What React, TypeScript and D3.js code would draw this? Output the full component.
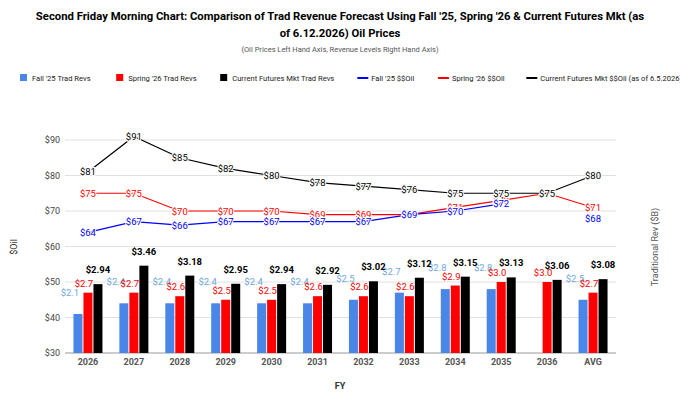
import * as d3 from "d3";

const categories = ["2026", "2027", "2028", "2029", "2030", "2031", "2032", "2033", "2034", "2035", "2036", "AVG"];
const fallRev = [2.1, 2.4, 2.4, 2.4, 2.4, 2.4, 2.5, 2.7, 2.8, 2.8, null, 2.5];
const springRev = [2.7, 2.7, 2.6, 2.5, 2.5, 2.6, 2.6, 2.6, 2.9, 3.0, 3.0, 2.7];
const currentRev = [2.94, 3.46, 3.18, 2.95, 2.94, 2.92, 3.02, 3.12, 3.15, 3.13, 3.06, 3.08];
const fallOil = [64, 67, 66, 67, 67, 67, 67, 69, 70, 72, null, 68];
const springOil = [75, 75, 70, 70, 70, 69, 69, 69, 71, 73, 75, 71];
const currentOil = [81, 91, 85, 82, 80, 78, 77, 76, 75, 75, 75, 80];
const oilTicks = [30, 40, 50, 60, 70, 80, 90];

const legend = [
  { label: "Fall '25 Trad Revs", color: "#4a86e8", type: "bar" },
  { label: "Spring '26 Trad Revs", color: "#ff0000", type: "bar" },
  { label: "Current Futures Mkt Trad Revs", color: "#000000", type: "bar" },
  { label: "Fall '25 $$Oil", color: "#0000ff", type: "line" },
  { label: "Spring '26 $$Oil", color: "#ff0000", type: "line" },
  { label: "Current Futures Mkt $$Oil (as of 6.5.2026)", color: "#000000", type: "line" },
];

export default function App() {
  const W = 680, H = 412;
  const left = 65, right = 616, bottom = 353;
  const x = d3.scaleBand().domain(categories).range([left, right]);
  const y = d3.scaleLinear().domain([30, 90]).range([bottom, 140]);
  const yr = d3.scaleLinear().domain([1, 7]).range([bottom, 140]);
  const bw = 9;
  const cx = (i: number) => x(categories[i])! + x.bandwidth() / 2;

  const barSeries = [
    { data: fallRev, color: "#4a86e8", label: "#6fa8dc", off: -1, fmt: (v: number) => "$" + v.toFixed(1), dx: -8, dy: -18 },
    { data: springRev, color: "#ff0000", label: "#ff0000", off: 0, fmt: (v: number) => "$" + v.toFixed(1), dx: -4, dy: -6 },
    { data: currentRev, color: "#000000", label: "#000000", off: 1, fmt: (v: number) => "$" + v.toFixed(2), dx: 0, dy: -11 },
  ];
  const lineSeries = [
    { data: springOil, color: "#ff0000" },
    { data: fallOil, color: "#0000ff" },
    { data: currentOil, color: "#000000" },
  ];
  const line = d3.line<number | null>()
    .defined((d) => d !== null)
    .x((_, i) => cx(i))
    .y((d) => y(d as number));

  let lx = 20;
  const legendItems = legend.map((l) => {
    const item = { ...l, x: lx };
    lx += 13 + l.label.length * 3.9 + 13;
    return item;
  });

  return (
    <svg width={W} height={H} style={{ position: "absolute", left: 0, top: 0, fontFamily: "Roboto, sans-serif" }}>
      <rect width={W} height={H} fill="#fff" />
      <text x={340} y={20} textAnchor="middle" fontSize={11.3} fontWeight="bold">
        Second Friday Morning Chart: Comparison of Trad Revenue Forecast Using Fall '25, Spring '26 &amp; Current Futures Mkt (as
      </text>
      <text x={340} y={37} textAnchor="middle" fontSize={11.3} fontWeight="bold">of 6.12.2026) Oil Prices</text>
      <text x={340} y={52} textAnchor="middle" fontSize={7.5} fill="#555">(Oil Prices Left Hand Axis, Revenue Levels Right Hand Axis)</text>
      {legendItems.map((l) => (
        <g key={l.label} transform={`translate(${l.x},78)`}>
          {l.type === "bar"
            ? <rect x={0} y={-4} width={7} height={7} fill={l.color} />
            : <line x1={-2} x2={9} y1={0} y2={0} stroke={l.color} strokeWidth={2} />}
          <text x={12} y={3} fontSize={7.6} fill="#222">{l.label}</text>
        </g>
      ))}
      {oilTicks.map((t) => (
        <g key={t}>
          <line x1={left} x2={right} y1={y(t)} y2={y(t)} stroke={t === 30 ? "#999" : "#e0e0e0"} />
          <text x={left - 5} y={y(t) + 3} textAnchor="end" fontSize={9} fill="#444">${t}</text>
        </g>
      ))}
      {barSeries.map((s) => s.data.map((v, i) => v === null ? null : (
        <g key={s.color + i}>
          <rect x={cx(i) + s.off * (bw + 1) - bw / 2} y={yr(v)} width={bw} height={bottom - yr(v)} fill={s.color} />
          <text x={cx(i) + s.off * (bw + 1) + s.dx} y={yr(v) + s.dy} textAnchor="middle" fontSize={9.5} fill={s.label} fontWeight={s.off === 1 ? "bold" : "normal"}>{s.fmt(v)}</text>
        </g>
      )))}
      {lineSeries.map((s) => (
        <g key={s.color}>
          <path d={line(s.data) ?? ""} fill="none" stroke={s.color} strokeWidth={1.2} />
          {s.data.map((v, i) => v === null ? null : (
            <text key={i} x={cx(i)} y={y(v) + 3.5} textAnchor="middle" fontSize={9.5} fill={s.color} stroke="#fff" strokeWidth={2} paintOrder="stroke">${v}</text>
          ))}
        </g>
      ))}
      {categories.map((c, i) => (
        <text key={c} x={cx(i)} y={bottom + 12} textAnchor="middle" fontSize={9} fill="#555" fontWeight="bold">{c}</text>
      ))}
      <text x={340} y={389} textAnchor="middle" fontSize={9} fontWeight="bold" fill="#333">FY</text>
      <text transform="translate(17,247) rotate(-90)" textAnchor="middle" fontSize={9} fill="#333">$Oil</text>
      <text transform="translate(658,247) rotate(-90)" textAnchor="middle" fontSize={9} fill="#555">Traditional Rev ($B)</text>
    </svg>
  );
}
